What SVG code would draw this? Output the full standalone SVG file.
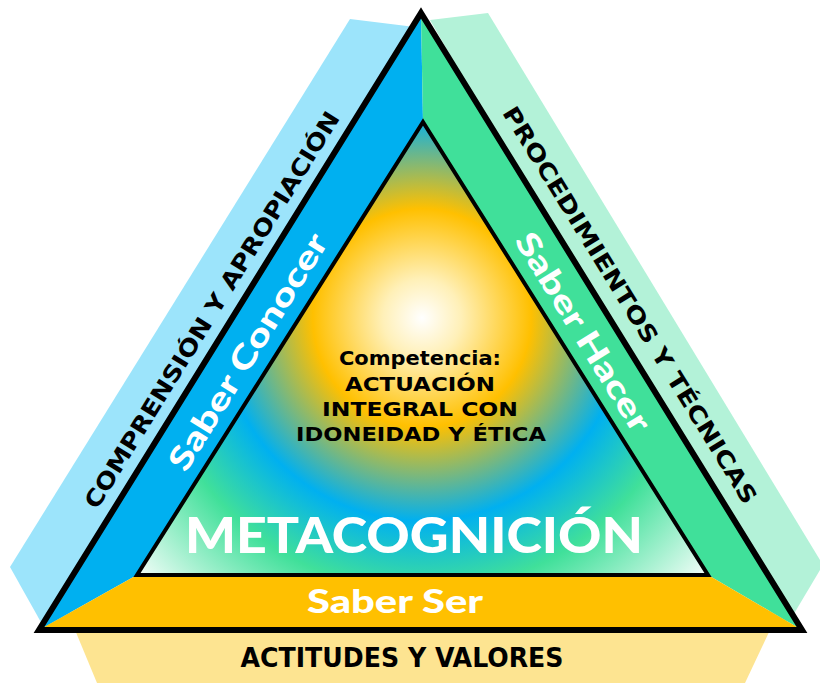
<svg xmlns="http://www.w3.org/2000/svg" width="820" height="683" viewBox="0 0 820 683">
<defs>
<radialGradient id="core" gradientUnits="userSpaceOnUse" cx="422" cy="318" r="390">
<stop offset="0" stop-color="#FFFFFF"/>
<stop offset="0.1" stop-color="#FFF0B8"/>
<stop offset="0.28" stop-color="#FFC000"/>
<stop offset="0.52" stop-color="#00B0F0"/>
<stop offset="0.7" stop-color="#40E09A"/>
<stop offset="1" stop-color="#FFFFFF"/>
</radialGradient>
<style>
.lbl{font-family:"DejaVu Sans Condensed","DejaVu Sans",sans-serif;font-weight:bold;text-anchor:middle}
.geo{font-family:Lato,"Open Sans",sans-serif;font-weight:900;text-anchor:middle}
.dark{fill:#000}
.light{fill:#fff}
.edge{fill:none;stroke:#000;stroke-linejoin:miter}
</style>
</defs>
<rect width="820" height="683" fill="#fff"/>
<g id="bands">
<polygon points="350,19 415,27 60,630 47,633 10,567" fill="#9CE4FB"/>
<polygon points="430,20 488,13 820,560 820,570 795,612 780,630" fill="#B3F2D8"/>
<polygon points="75,630 770,630 745,683 97,683" fill="#FDE491"/>
</g>
<g id="saber-conocer-band">
<polygon points="421,13 423,122 137,575 39,630" fill="#00B0F0"/>
</g>
<g id="saber-hacer-band">
<polygon points="421,13 802,630 708,575 423,122" fill="#40E09A"/>
</g>
<g id="saber-ser-band">
<polygon points="39,630 137,575 708,575 802,630" fill="#FFC000"/>
</g>
<g id="outer">
<polygon class="edge" points="421,13 802,630 39,630" stroke-width="6"/>
</g>
<g id="core-node">
<polygon points="423,122 708,575 137,575" fill="url(#core)" stroke="#000" stroke-width="4"/>
<text class="lbl dark" x="420" y="365" font-size="20" textLength="162" lengthAdjust="spacingAndGlyphs">Competencia:</text>
<text class="lbl dark" x="420" y="391" font-size="20" textLength="150" lengthAdjust="spacingAndGlyphs">ACTUACIÓN</text>
<text class="lbl dark" x="420" y="416" font-size="20" textLength="196" lengthAdjust="spacingAndGlyphs">INTEGRAL CON</text>
<text class="lbl dark" x="421" y="441" font-size="20" textLength="250" lengthAdjust="spacingAndGlyphs">IDONEIDAD Y ÉTICA</text>
<text class="geo light" x="414" y="553" font-size="50" textLength="458" lengthAdjust="spacingAndGlyphs">METACOGNICIÓN</text>
</g>
<g id="left-labels">
<text class="lbl dark" transform="translate(212,310) rotate(-58.2)" y="8" font-size="23" textLength="462" lengthAdjust="spacingAndGlyphs">COMPRENSIÓN Y APROPIACIÓN</text>
<text class="geo light" transform="translate(248,352) rotate(-58.2)" y="11" font-size="32" textLength="272" lengthAdjust="spacingAndGlyphs">Saber Conocer</text>
</g>
<g id="right-labels">
<text class="lbl dark" transform="translate(630,305) rotate(58.3)" y="8" font-size="23" textLength="462" lengthAdjust="spacingAndGlyphs">PROCEDIMIENTOS Y TÉCNICAS</text>
<text class="geo light" transform="translate(583,332) rotate(58.3)" y="11" font-size="32" textLength="228" lengthAdjust="spacingAndGlyphs">Saber Hacer</text>
</g>
<g id="bottom-labels">
<text class="geo light" x="395" y="613" font-size="32" textLength="176" lengthAdjust="spacingAndGlyphs">Saber Ser</text>
<text class="lbl dark" x="402" y="667" font-size="27" textLength="323" lengthAdjust="spacingAndGlyphs">ACTITUDES Y VALORES</text>
</g>
<g id="connectors"/>
</svg>
